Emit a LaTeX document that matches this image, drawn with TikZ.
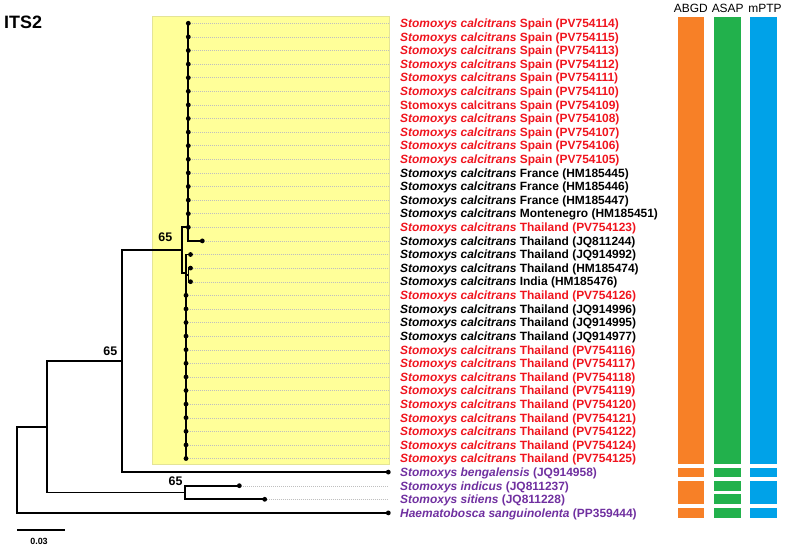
\documentclass[tikz,border=0pt]{standalone}
\usepackage{fontspec}
\setmainfont{Liberation Sans}
\definecolor{lred}{RGB}{240,20,30}
\definecolor{lpurple}{RGB}{112,48,160}
\definecolor{lblack}{RGB}{0,0,0}
\definecolor{cyel}{RGB}{255,255,153}
\definecolor{cyelb}{RGB}{228,228,150}
\definecolor{corange}{RGB}{247,128,39}
\definecolor{cgreen}{RGB}{34,177,76}
\definecolor{cblue}{RGB}{0,162,232}
\begin{document}
\begin{tikzpicture}[x=1bp,y=-1bp,
  branch/.style={line width=1.8bp,line join=miter,line cap=rect},
  tipdot/.style={circle,fill=black,inner sep=0pt,minimum size=4.8bp},
  rowline/.style={black!25,line width=0.4bp,dash pattern=on 1bp off 1bp},
  lab/.style={anchor=base west,inner sep=0pt,font=\fontsize{12}{14}\selectfont\bfseries},
  support/.style={anchor=east,inner sep=0pt,font=\fontsize{12.5}{14}\selectfont\bfseries},
  head/.style={anchor=base,inner sep=0pt,font=\fontsize{12}{14}\selectfont},
  barbox/.style={draw=white,line width=0.4bp}]
\useasboundingbox (0,0) rectangle (789,549);

% title
\node[anchor=base west,inner sep=0pt,font=\fontsize{18}{20}\selectfont\bfseries] (title) at (4,28.3) {ITS2};

% yellow clade box
\node[draw=cyelb,fill=cyel,line width=0.5bp,inner sep=0pt,minimum width=236.2bp,minimum height=448.6bp,anchor=north west] (box) at (152.3,15.7) {};
\coordinate (rend) at (388.5,0);

% tips
\foreach \x [count=\k] in {188.3,188.3,188.3,188.3,188.3,188.3,188.3,188.3,188.3,188.3,188.3,188.3,188.3,188.3,188.3,188.3,
  202.3,190.5,190.5,190.5,186,186,186,186,186,186,186,186,186,186,186,186,186,388.3,239.3,264.7,388.3}
  \coordinate (t\k) at (\x,{23.3+(\k-1)*13.6});

% row guide lines
\foreach \k in {1,...,33,35,36}
  \draw[rowline] (t\k) -- (t\k -| rend);

% internal nodes
\coordinate (nI) at (181.7,250.15);
\coordinate (nL) at (186,273);
\coordinate (nS) at (188.5,274.9);
\coordinate (n2) at (122.3,361.1);
\coordinate (n3) at (46.7,426.7);
\coordinate (n4) at (185.3,492.5);
\coordinate (nR) at (17.3,469.8);

% branches
\draw[branch] (t1) |- (t17);
\draw[branch] (t16) -| (nI) |- (nL);
\draw[branch] (t18) -| (t33);
\draw[branch] (t19) -| (nS) |- (t20);
\draw[branch] (nS) -- (nS -| t33);
\draw[branch] (nI) -| (n2) |- (t34);
\draw[branch] (n2) -| (n3) |- (n4);
\draw[branch] (t35) -| (n4) |- (t36);
\draw[branch] (n3) -| (nR) |- (t37);

% tip dots
\foreach \k in {1,...,37}
  \node[tipdot] (d\k) at (t\k) {};

% support values
\node[support] (s1) at (172.5,237.7) {65};
\node[support] (s2) at (117.5,351) {65};
\node[support] (s3) at (182.7,481.7) {65};

% labels
\foreach \c/\a/\b [count=\k] in {
  lred/Stomoxys calcitrans/Spain (PV754114),
  lred/Stomoxys calcitrans/Spain (PV754115),
  lred/Stomoxys calcitrans/Spain (PV754113),
  lred/Stomoxys calcitrans/Spain (PV754112),
  lred/Stomoxys calcitrans/Spain (PV754111),
  lred/Stomoxys calcitrans/Spain (PV754110),
  lred/\upshape Stomoxys calcitrans/Spain (PV754109),
  lred/Stomoxys calcitrans/Spain (PV754108),
  lred/Stomoxys calcitrans/Spain (PV754107),
  lred/Stomoxys calcitrans/Spain (PV754106),
  lred/Stomoxys calcitrans/Spain (PV754105),
  lblack/Stomoxys calcitrans/France (HM185445),
  lblack/Stomoxys calcitrans/France (HM185446),
  lblack/Stomoxys calcitrans/France (HM185447),
  lblack/Stomoxys calcitrans/Montenegro (HM185451),
  lred/Stomoxys calcitrans/Thailand (PV754123),
  lblack/Stomoxys calcitrans/Thailand (JQ811244),
  lblack/Stomoxys calcitrans/Thailand (JQ914992),
  lblack/Stomoxys calcitrans/Thailand (HM185474),
  lblack/Stomoxys calcitrans/India (HM185476),
  lred/Stomoxys calcitrans/Thailand (PV754126),
  lblack/Stomoxys calcitrans/Thailand (JQ914996),
  lblack/Stomoxys calcitrans/Thailand (JQ914995),
  lblack/Stomoxys calcitrans/Thailand (JQ914977),
  lred/Stomoxys calcitrans/Thailand (PV754116),
  lred/Stomoxys calcitrans/Thailand (PV754117),
  lred/Stomoxys calcitrans/Thailand (PV754118),
  lred/Stomoxys calcitrans/Thailand (PV754119),
  lred/Stomoxys calcitrans/Thailand (PV754120),
  lred/Stomoxys calcitrans/Thailand (PV754121),
  lred/Stomoxys calcitrans/Thailand (PV754122),
  lred/Stomoxys calcitrans/Thailand (PV754124),
  lred/Stomoxys calcitrans/Thailand (PV754125),
  lpurple/Stomoxys bengalensis/(JQ914958),
  lpurple/Stomoxys indicus/(JQ811237),
  lpurple/Stomoxys sitiens/(JQ811228),
  lpurple/Haematobosca sanguinolenta/(PP359444)}
  \node[lab,text=\c] (l\k) at (400,{23.3+(\k-1)*13.6+4.3}) {{\itshape \a} \b};

% delimitation headers
\node[head] (hA) at (690.8,12.7) {ABGD};
\node[head] (hB) at (727.7,12.7) {ASAP};
\node[head] (hC) at (765,12.7) {mPTP};

% delimitation bars
\fill[corange] (677.7,17.3) rectangle (704,464);
\fill[cgreen] (714.3,17.3) rectangle (741,464);
\fill[cblue] (750,17.3) rectangle (776.7,464);
\fill[corange] (677.7,468) rectangle (704,477);
\fill[cgreen] (714.3,468) rectangle (741,477);
\fill[cblue] (750,468) rectangle (776.7,477);
\fill[corange] (677.7,481) rectangle (704,504);
\fill[cgreen] (714.3,481) rectangle (741,490.7);
\fill[cgreen] (714.3,494) rectangle (741,504);
\fill[cblue] (750,481) rectangle (776.7,504);
\fill[corange] (677.7,507.7) rectangle (704,518.3);
\fill[cgreen] (714.3,507.7) rectangle (741,518.3);
\fill[cblue] (750,507.7) rectangle (776.7,518.3);

% scale bar
\coordinate (sb1) at (17.3,530);
\coordinate (sb2) at (65,530);
\draw[line width=1.5bp] (sb1) -- (sb2);
\node[inner sep=0pt,font=\fontsize{9}{10}\selectfont\bfseries] (sbl) at (39,541.7) {0.03};
\end{tikzpicture}
\end{document}
